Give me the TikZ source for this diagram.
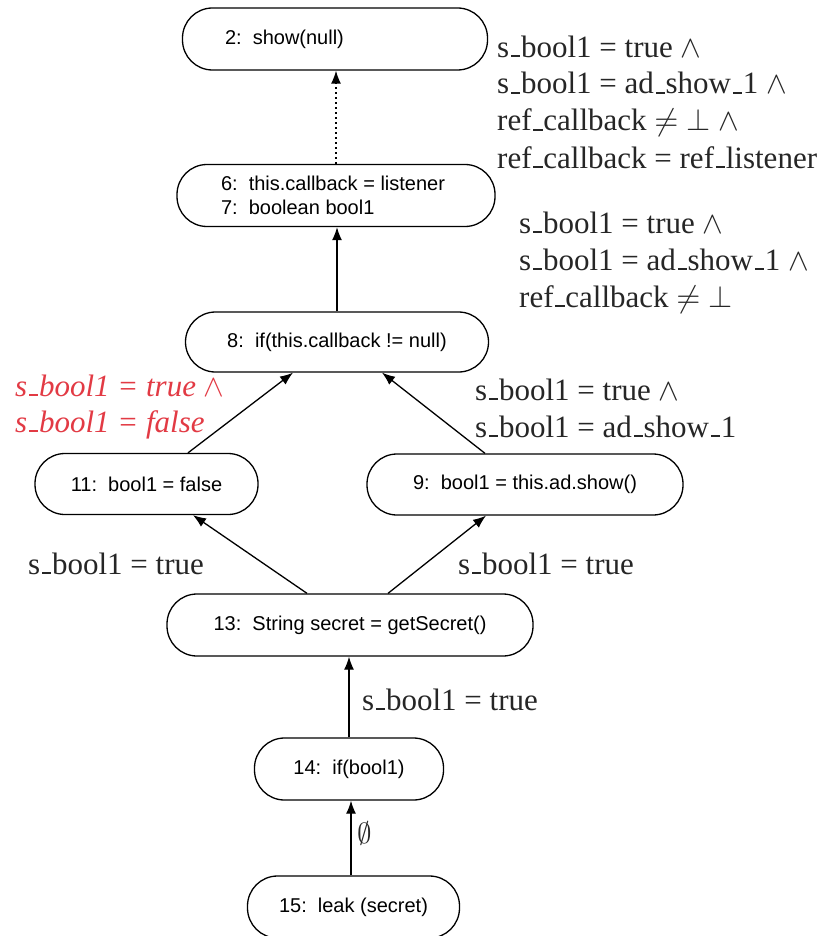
\documentclass[tikz,border=0pt]{standalone}
\usepackage{fontspec}
\setmainfont{Liberation Serif}
\newfontfamily\nodefont{Liberation Sans}
\usetikzlibrary{arrows.meta}
\DeclareFontShape{OMS}{cmsy}{m}{n}{<->cmsy10}{}
\DeclareFontShape{OML}{cmm}{m}{it}{<->cmmi10}{}
\DeclareFontShape{OT1}{cmr}{m}{n}{<->cmr10}{}
\newcommand\us{\leavevmode\kern.06em\vbox{\hrule width .3em height .05em}\kern.02em}
\definecolor{labred}{RGB}{226,58,68}
\begin{document}
\begin{tikzpicture}[x=1pt,y=-1pt,
  stad/.style={draw, line width=1.3pt, rounded corners=30pt, inner sep=0pt,
    font=\nodefont\fontsize{20}{24}\selectfont},
  arr/.style={line width=1.3pt, -{Latex[length=13pt,width=10pt]}},
  dotarr/.style={arr, dash pattern=on 1.5pt off 3.5pt},
  lab/.style={anchor=base west, inner sep=0pt, align=left,
    font=\fontsize{31}{37}\selectfont, text=black!85},
  redlab/.style={lab, font=\fontsize{31}{36}\selectfont\itshape, text=labred}]
\useasboundingbox (0,0) rectangle (836,936);

% nodes
\node[stad, minimum width=305pt, minimum height=62pt] (n2) at (335,39) {\makebox[220pt][l]{2:~~show(null)}};
\node[stad, minimum width=318pt, minimum height=62pt, align=left] (n6) at (336,195.5)
  {6:~~this.callback = listener\hspace*{6pt}\\7:~~boolean bool1};
\node[stad, minimum width=303pt, minimum height=60pt] (n8) at (337,342) {8:~~if(this.callback != null)};
\node[stad, minimum width=223pt, minimum height=61pt] (n11) at (146.5,484) {11:~~bool1 = false};
\node[stad, minimum width=316pt, minimum height=61pt] (n9) at (525,484.5) {9:~~bool1 = this.ad.show()};
\node[stad, minimum width=366pt, minimum height=62pt] (n13) at (350,625) {13:~~String secret = getSecret()};
\node[stad, minimum width=189pt, minimum height=62pt] (n14) at (349,769) {14:~~if(bool1)};
\node[stad, minimum width=212pt, minimum height=62pt] (n15) at (353.5,907) {15:~~leak (secret)};

% connectors
\draw[dotarr] (n6.north) -- (n6.north |- n2.south);
\draw[arr] (n8.north) -- (n8.north |- n6.south);
\draw[arr] ([xshift=41.5pt]n11.north) -- ([xshift=-44pt]n8.south);
\draw[arr] ([xshift=-40pt]n9.north) -- ([xshift=45pt]n8.south);
\draw[arr] ([xshift=-43pt]n13.north) -- ([xshift=46.5pt]n11.south);
\draw[arr] ([xshift=38pt]n13.north) -- ([xshift=-39pt]n9.south);
\draw[arr] (n14.north) -- (n14.north |- n13.south);
\draw[arr] ([xshift=-2.5pt]n15.north) -- ([xshift=-2.5pt]n15.north |- n14.south);

% labels (anchored at the baseline of their last line)
\node[lab] (la) at (497,168) {s\us bool1 = true $\wedge$\\
  s\us bool1 = ad\us show\us 1 $\wedge$\\
  ref\us callback $\neq$ $\perp$ $\wedge$\\
  ref\us callback = ref\us listener};
\node[lab] (lb) at (519,307) {s\us bool1 = true $\wedge$\\
  s\us bool1 = ad\us show\us 1 $\wedge$\\
  ref\us callback $\neq$ $\perp$};
\node[redlab] (lr) at (15,432) {s\us bool1 = true $\wedge$\\ s\us bool1 = false};
\node[lab] (lc) at (475,437) {s\us bool1 = true $\wedge$\\ s\us bool1 = ad\us show\us 1};
\node[lab] (ld) at (28,574) {s\us bool1 = true};
\node[lab] (le) at (458,574) {s\us bool1 = true};
\node[lab] (lf) at (362,710) {s\us bool1 = true};
\node[lab, font=\fontsize{29}{34}\selectfont] (lg) at (357,843) {$\emptyset$};
\end{tikzpicture}
\end{document}
